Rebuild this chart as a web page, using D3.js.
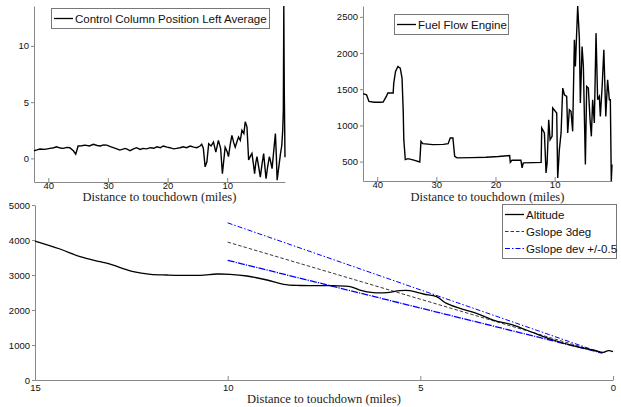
<!DOCTYPE html>
<html>
<head>
<meta charset="utf-8">
<script src="https://cdnjs.cloudflare.com/ajax/libs/d3/7.8.5/d3.min.js"></script>
<style>
  body { margin: 0; background: #fff; }
  svg { display: block; }
  .tick text { font-family: "Liberation Sans", Arial, sans-serif; font-size: 9.5px; fill: #111; }
  .domain, .tick line { stroke: #888; }
  .xlabel { font-family: "Liberation Serif", "Times New Roman", serif; font-size: 12.5px; fill: #222; }
  .legend text { font-family: "Liberation Sans", Arial, sans-serif; font-size: 11.5px; fill: #111; }
</style>
</head>
<body>
<div id="chart"></div>
<script>
// control column position (distance in miles, value)
var ccDist = [42.4, 41.9, 41.4, 40.6, 39.7, 39.1, 38.6, 38.0, 37.5, 36.9, 36.4, 35.8, 35.4, 35.0, 34.4, 33.85, 33.1, 32.45, 31.8, 31.3,
              30.7, 30.2, 29.6, 29.1, 28.5, 28.0, 27.5, 27.1, 26.7, 26.3, 25.7, 25.2, 24.6, 24.1, 23.5, 22.9, 22.3, 21.8, 21.2, 20.7,
              20.1, 19.6, 19.0, 18.5, 17.9, 17.4, 16.8, 16.2, 15.6, 15.1, 14.55, 14.27, 14.0, 13.7, 13.4, 13.1, 12.7, 12.3, 11.9, 11.47,
              11.1, 10.8, 10.34, 10.0, 9.78, 9.5, 9.21, 8.9, 8.65, 8.35, 8.09, 7.8, 7.52, 7.2, 6.97, 6.68, 6.4, 6.1, 5.84, 5.6,
              5.4, 5.2, 5.0, 4.7, 4.44, 4.15, 3.88, 3.7, 3.48, 3.2, 2.92, 2.7, 2.47, 2.2, 1.91, 1.75, 1.62, 1.3, 1.06, 0.85,
              0.68, 0.58, 0.5, 0.42, 0.3];
var ccVal = [0.68, 0.75, 0.83, 0.8, 0.89, 0.95, 1.03, 0.92, 0.89, 0.98, 0.95, 0.68, 0.38, 1.1, 1.12, 1.18, 1.1, 1.25, 1.15, 1.1,
             1.2, 1.18, 1.05, 0.95, 0.85, 0.74, 0.82, 0.89, 0.8, 0.68, 0.85, 0.95, 0.8, 0.89, 0.85, 0.95, 0.9, 1.03, 0.95, 1.1,
             1.0, 0.95, 0.85, 0.89, 0.95, 1.03, 0.95, 1.1, 1.0, 0.95, 1.1, 1.25, 0.9, -0.75, -0.3, 1.3, 1.1, 1.45, 0.56, 1.6,
             0.9, -1.37, 1.0, 0.6, 0.15, 1.2, 2.05, 1.4, 1.0, 1.5, 1.9, 1.6, 2.5, 2.2, 3.25, 2.8, -0.15, 0.2, 0.45, -0.5,
             -1.37, -0.4, 0.15, -0.8, -1.67, -0.5, 0.42, -0.6, -1.81, -0.7, 0.15, -0.3, -0.92, 0.6, 2.2, 0.2, -1.94, -0.6, 0.42, 1.1,
             2.5, 4.3, 13.55, 6.0, 0.1];

// fuel flow engine
var ffDist = [42.4, 41.8, 41.4, 40.5, 39.5, 39.0, 38.45, 38.2, 37.3, 37.2, 36.9, 36.5, 36.1, 35.8, 35.6, 35.5, 35.25, 34.8, 33.8, 32.8,
              32.6, 32.3, 30.6, 28.8, 28.0, 27.65, 27.2, 26.9, 26.5, 24.0, 21.6, 19.5, 17.6, 17.5, 17.2, 15.7, 15.5, 15.3, 13.5, 12.28,
              12.18, 11.73, 11.45, 11.27, 11.0, 10.77, 10.43, 10.33, 9.65, 9.48, 9.2, 8.91, 8.63, 8.35, 7.96, 7.79, 7.51, 7.23, 6.95, 6.66,
              6.49, 6.1, 5.82, 5.65, 5.36, 5.14, 4.8, 4.58, 4.3, 4.01, 3.79, 3.57, 3.29, 3.0, 2.73, 2.44, 2.27, 1.95, 1.68, 1.35,
              1.04, 0.75, 0.58, 0.42, 0.3];
var ffVal = [1440, 1424, 1332, 1320, 1320, 1323, 1400, 1447, 1447, 1585, 1746, 1815, 1792, 1654, 1200, 803, 528, 541, 520, 495,
             780, 748, 734, 738, 748, 826, 826, 574, 551, 555, 560, 570, 583, 491, 518, 518, 413, 482, 486, 490,
             965, 896, 344, 482, 1079, 803, 849, 1240, 1171, 275, 666, 896, 1516, 1424, 1401, 896, 1217, 1194, 918, 2183,
             1815, 2650, 2206, 1309, 2090, 1815, 459, 1539, 1516, 1079, 849, 1355, 1033, 2275, 1355, 1401, 1125, 1562, 2045, 1125,
             1631, 1355, 1355, 232, 459];

// altitude on final approach
var altDist = [15, 14.35, 13.83, 13.31, 13.05, 12.79, 12.45, 12.0, 11.58, 10.72, 10.28, 9.94, 9.5, 8.98, 8.55, 8.12, 7.26, 6.82, 6.57,
               6.22, 5.87, 5.53, 5.27, 4.92, 4.58, 4.32, 3.97, 3.54, 3.11, 2.59, 2.07, 1.55, 0.94, 0.51, 0.25, 0.12, 0.0];
var altVal = [3971, 3743, 3524, 3381, 3314, 3210, 3095, 3019, 3000, 2990, 3028, 3019, 2971, 2857, 2733, 2700, 2695, 2667, 2571,
              2495, 2495, 2552, 2552, 2457, 2381, 2190, 2048, 1905, 1714, 1571, 1352, 1143, 952, 857, 790, 838, 810];

// glideslope reference lines (end points)
var gsDist = [10, 0.28];
var gs3 = [3940, 770];
var gsHigh = [4490, 770];
var gsLow = [3420, 770];

var topXTicks = [40, 30, 20, 10];
var ccYTicks = [0, 5, 10];
var ffYTicks = [500, 1000, 1500, 2000, 2500];
var altXTicks = [15, 10, 5, 0];
var altYTicks = [0, 1000, 2000, 3000, 4000, 5000];

var width = 621, height = 407;

var svg = d3.select("#chart").append("svg")
    .attr("width", width)
    .attr("height", height);

function zip(a, b) {
    return a.map(function(d, i) { return [d, b[i]]; });
}

function drawAxes(x, y, xTicks, yTicks, xPad, labelDy) {
    var r = y.range();
    svg.append("g")
        .attr("transform", "translate(0," + r[0] + ")")
        .call(d3.axisBottom(x).tickValues(xTicks).tickSizeInner(-4).tickSizeOuter(0).tickPadding(xPad));
    svg.append("g")
        .attr("transform", "translate(" + x.range()[0] + ",0)")
        .call(d3.axisLeft(y).tickValues(yTicks).tickFormat(d3.format("d")).tickSizeInner(3).tickSizeOuter(0).tickPadding(2));
    var xr = x.range();
    svg.append("text")
        .attr("class", "xlabel")
        .attr("x", (xr[0] + xr[1]) / 2)
        .attr("y", r[0] + labelDy)
        .attr("text-anchor", "middle")
        .text("Distance to touchdown (miles)");
}

function legend(x0, y0, w, items) {
    var g = svg.append("g").attr("class", "legend");
    g.append("rect")
        .attr("x", x0 + 0.5).attr("y", y0 + 0.5)
        .attr("width", w).attr("height", items.length * 17 + 3)
        .attr("fill", "#fff").attr("stroke", "#777");
    items.forEach(function(it, i) {
        var cy = y0 + 10.5 + i * 17;
        g.append("line")
            .attr("x1", x0 + 3).attr("x2", x0 + 22)
            .attr("y1", cy).attr("y2", cy)
            .attr("stroke", it.color).attr("stroke-width", it.width)
            .attr("stroke-dasharray", it.dash || null);
        g.append("text")
            .attr("x", x0 + 24).attr("y", cy + 4)
            .text(it.label);
    });
}

// ---- top left: control column
var x1 = d3.scaleLinear().domain([42.4, 0.3]).range([34, 285]);
var y1 = d3.scaleLinear().domain([-2.1, 13.55]).range([182, 6]);
drawAxes(x1, y1, topXTicks, ccYTicks, 0, 19);
svg.append("path")
    .datum(zip(ccDist, ccVal))
    .attr("fill", "none").attr("stroke", "#000").attr("stroke-width", 1.4)
    .attr("d", d3.line().x(function(d) { return x1(d[0]); }).y(function(d) { return y1(d[1]); }));
legend(51, 8, 218, [{ label: "Control Column Position Left Average", color: "#000", width: 1.3 }]);

// ---- top right: fuel flow
var x2 = d3.scaleLinear().domain([42.4, 0.3]).range([363, 612]);
var y2 = d3.scaleLinear().domain([232, 2650]).range([181, 6]);
drawAxes(x2, y2, topXTicks, ffYTicks, 0, 20);
svg.append("path")
    .datum(zip(ffDist, ffVal))
    .attr("fill", "none").attr("stroke", "#000").attr("stroke-width", 1.4)
    .attr("d", d3.line().x(function(d) { return x2(d[0]); }).y(function(d) { return y2(d[1]); }));
legend(394, 14, 114, [{ label: "Fuel Flow Engine", color: "#000", width: 1.3 }]);

// ---- bottom: altitude vs glideslope
var x3 = d3.scaleLinear().domain([15, 0]).range([35, 613]);
var y3 = d3.scaleLinear().domain([0, 5000]).range([380, 205]);
drawAxes(x3, y3, altXTicks, altYTicks, 4, 23);

var line3 = d3.line().x(function(d) { return x3(d[0]); }).y(function(d) { return y3(d[1]); });

svg.append("path")
    .datum(zip(gsDist, gsLow))
    .attr("fill", "none").attr("stroke", "#0000ff").attr("stroke-width", 1.3)
    .attr("stroke-dasharray", "7,1.2,1.2,1.2")
    .attr("d", line3);
svg.append("path")
    .datum(zip(gsDist, gsHigh))
    .attr("fill", "none").attr("stroke", "#0000ff").attr("stroke-width", 1)
    .attr("stroke-dasharray", "5,2,1.5,2")
    .attr("d", line3);
svg.append("path")
    .datum(zip(gsDist, gs3))
    .attr("fill", "none").attr("stroke", "#222").attr("stroke-width", 0.9)
    .attr("stroke-dasharray", "3.5,2")
    .attr("d", line3);
svg.append("path")
    .datum(zip(altDist, altVal))
    .attr("fill", "none").attr("stroke", "#000").attr("stroke-width", 1.3)
    .attr("d", line3.curve(d3.curveCatmullRom.alpha(0.5)));

legend(502, 204, 114, [
    { label: "Altitude", color: "#000", width: 1.3 },
    { label: "Gslope 3deg", color: "#222", width: 0.9, dash: "3.5,2" },
    { label: "Gslope dev +/-0.5", color: "#0000ff", width: 1, dash: "5,2,1.5,2" }
]);
</script>
</body>
</html>
